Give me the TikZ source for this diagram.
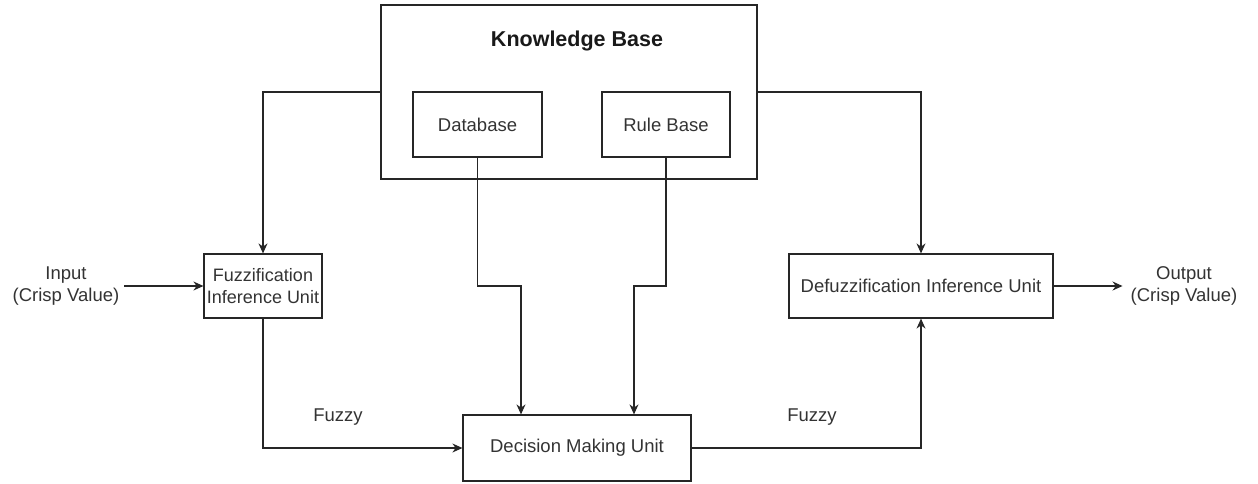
\documentclass[tikz,border=0pt]{standalone}
\usepackage{fontspec}
\setmainfont{Liberation Sans}
\usetikzlibrary{arrows.meta,positioning}

\tikzset{
    unit/.style={draw=black!85, line width=1.2pt, align=center, inner sep=0pt},
    plain/.style={align=center, inner sep=0pt, text=black!80},
    arr/.style={draw=black!85, line width=1.2pt, -{Stealth[length=10pt,width=9pt]}}
}

\begin{document}
\begin{tikzpicture}[x=1pt, y=-1pt, font=\fontsize{18.5}{22}\selectfont, text=black!80]
    \useasboundingbox (0,0) rectangle (1258,483);

    % Knowledge Base
    \node[unit, minimum width=376pt, minimum height=174pt] (kb) at (569,92) {};
    \node[plain, font=\fontsize{21.5}{22}\selectfont\bfseries, text=black!90] (kbtitle) at (577,41) {Knowledge Base};
    \node[unit, minimum width=129pt, minimum height=65pt] (db) at (477.5,124.5) {Database};
    \node[unit, minimum width=128pt, minimum height=65pt] (rb) at (666,124.5) {Rule Base};

    % Units
    \node[unit, minimum width=118pt, minimum height=64pt, font=\fontsize{18}{22}\selectfont] (fuzz) at (263,286) {Fuzzification\\Inference Unit};
    \node[unit, minimum width=264pt, minimum height=64pt] (defuzz) at (921,286) {Defuzzification Inference Unit};
    \node[unit, minimum width=228pt, minimum height=66pt] (dmu) at (577,448) {Decision Making Unit};

    % Input / Output
    \node[plain] (input) at (66,286) {Input\\(Crisp Value)};
    \node[plain] (output) at (1184,286) {Output\\(Crisp Value)};
    \node[plain] (fzin) at (338,417) {Fuzzy};
    \node[plain] (fzout) at (812,417) {Fuzzy};

    \coordinate (dbin) at ([xshift=-56pt]dmu.north);
    \coordinate (rbin) at ([xshift=57pt]dmu.north);

    % Arrows
    \draw[arr] (kb.west) -| (fuzz.north);
    \draw[arr] (kb.east) -| (defuzz.north);
    \draw[arr] (db.south) |- (dbin |- fuzz) -- (dbin);
    \draw[arr] (rb.south) |- (rbin |- fuzz) -- (rbin);
    \draw[arr] (fuzz.south) |- (dmu.west);
    \draw[arr] (dmu.east) -| (defuzz.south);
    \draw[arr] ([xshift=5pt]input.east) -- (fuzz.west);
    \draw[arr] (defuzz.east) -- ([xshift=-8pt]output.west);
\end{tikzpicture}
\end{document}
